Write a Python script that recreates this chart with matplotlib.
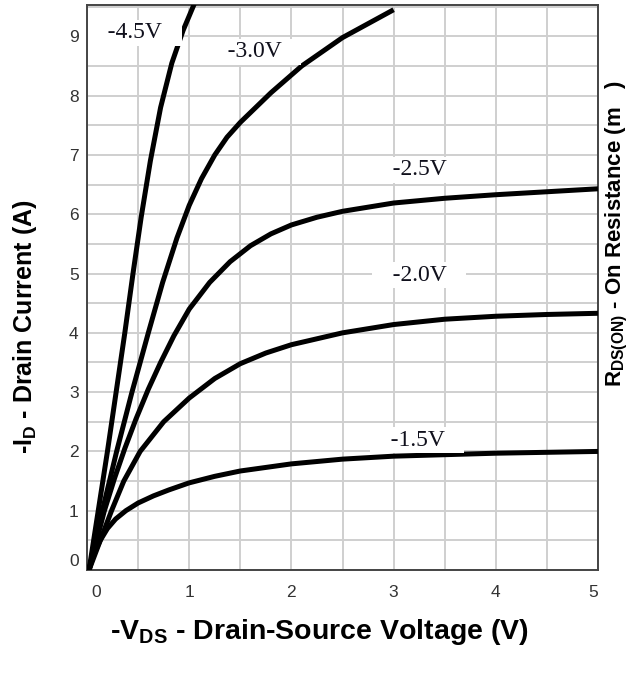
import matplotlib
matplotlib.use("Agg")
import matplotlib.pyplot as plt
import matplotlib.transforms as mtransforms
from matplotlib.ticker import MultipleLocator

# output characteristics, -VDS (V) vs -ID (A), one curve per gate voltage
vgs_labels = ["-4.5V", "-3.0V", "-2.5V", "-2.0V", "-1.5V"]

vds_45 = [0.02, 0.11, 0.20, 0.285, 0.37, 0.45, 0.53, 0.62, 0.72, 0.83, 0.94, 1.05]
id_45 = [0.0, 1.0, 2.0, 3.0, 4.0, 5.0, 5.95, 6.9, 7.8, 8.55, 9.1, 9.55]

vds_30 = [0.02, 0.15, 0.29, 0.44, 0.60, 0.74, 0.88, 1.00, 1.12, 1.25, 1.37,
          1.50, 1.80, 2.10, 2.50, 3.00]
id_30 = [0.0, 1.0, 2.0, 3.0, 4.0, 4.85, 5.6, 6.15, 6.6, 7.0, 7.3,
         7.55, 8.05, 8.5, 8.98, 9.45]

vds_25 = [0.02, 0.17, 0.27, 0.37, 0.48, 0.60, 0.72, 0.85, 1.00, 1.20, 1.40,
          1.60, 1.80, 2.00, 2.25, 2.50, 3.00, 3.50, 4.00, 4.50, 5.00]
id_25 = [0.0, 1.0, 1.55, 2.05, 2.55, 3.05, 3.5, 3.95, 4.4, 4.85, 5.2,
         5.47, 5.67, 5.82, 5.95, 6.05, 6.19, 6.27, 6.33, 6.38, 6.43]

vds_20 = [0.02, 0.13, 0.24, 0.36, 0.52, 0.75, 1.00, 1.25, 1.50, 1.75, 2.00,
          2.50, 3.00, 3.50, 4.00, 4.50, 5.00]
id_20 = [0.0, 0.5, 1.0, 1.5, 2.0, 2.5, 2.9, 3.23, 3.48, 3.66, 3.80,
         4.00, 4.14, 4.23, 4.28, 4.31, 4.33]

vds_15 = [0.02, 0.07, 0.13, 0.20, 0.28, 0.38, 0.50, 0.65, 0.80, 1.00, 1.25,
          1.50, 2.00, 2.50, 3.00, 4.00, 5.00]
id_15 = [0.0, 0.28, 0.50, 0.70, 0.86, 1.00, 1.13, 1.25, 1.35, 1.47, 1.58,
         1.67, 1.79, 1.87, 1.92, 1.97, 2.00]

# where the curve labels sit (data units)
label_x = [0.47, 1.64, 3.25, 3.25, 3.23]
label_y = [9.06, 8.74, 6.75, 4.97, 2.19]

x_ticks = [0, 1, 2, 3, 4, 5]
y_ticks = [0, 1, 2, 3, 4, 5, 6, 7, 8, 9]

plt.rcParams["mathtext.fontset"] = "custom"
plt.rcParams["mathtext.rm"] = "Liberation Sans"
plt.rcParams["mathtext.bf"] = "Liberation Sans:bold"

fig = plt.figure(figsize=(6.38, 6.73), dpi=100)
ax = fig.add_axes([87 / 638, 103 / 673, 511 / 638, 565 / 673])

curves = [(vds_45, id_45), (vds_30, id_30), (vds_25, id_25),
          (vds_20, id_20), (vds_15, id_15)]
for vx, vy in curves:
    ax.plot(vx, vy, color="black", lw=3.6, solid_capstyle="butt",
            solid_joinstyle="round", zorder=3)

for txt, lx, ly in zip(vgs_labels, label_x, label_y):
    ax.text(lx, ly, "   " + txt + "   ", family="Liberation Serif", fontsize=17,
            ha="center", va="center", color="#10101c", zorder=4,
            bbox=dict(boxstyle="square,pad=0.1", fc="white", ec="none"))

ax.set_xlim(0, 5)
ax.set_ylim(0, 9.53)
ax.set_xticks(x_ticks)
ax.set_yticks(y_ticks)
ax.xaxis.set_minor_locator(MultipleLocator(0.5))
ax.yaxis.set_minor_locator(MultipleLocator(0.5))
ax.grid(True, which="both", color="#cfcfcf", lw=1.4, zorder=0)
ax.set_axisbelow(True)
ax.tick_params(which="both", length=0)
ax.tick_params(axis="x", pad=11, labelsize=12.5, labelcolor="#333333")
ax.tick_params(axis="y", pad=6, labelsize=12.5, labelcolor="#333333")
for lab in ax.get_xticklabels() + ax.get_yticklabels():
    lab.set_family("Liberation Sans")
for sp in ax.spines.values():
    sp.set_color("#444444")
    sp.set_linewidth(1.4)

# nudge the corner tick labels like the original
xt = ax.xaxis.get_major_ticks()
yt = ax.yaxis.get_major_ticks()
xt[0].label1.set_transform(xt[0].label1.get_transform() +
                           mtransforms.ScaledTranslation(0.09, 0, fig.dpi_scale_trans))
xt[-1].label1.set_transform(xt[-1].label1.get_transform() +
                            mtransforms.ScaledTranslation(-0.05, 0, fig.dpi_scale_trans))
yt[0].label1.set_transform(yt[0].label1.get_transform() +
                           mtransforms.ScaledTranslation(0, 0.10, fig.dpi_scale_trans))

fig.text(25 / 638, 1 - 327 / 673, r"-I$_\mathbf{D}$ - Drain Current (A)",
         rotation=90, ha="center", va="center", fontsize=18, fontweight="bold",
         family="Liberation Sans")
fig.text(319 / 638, 1 - 632 / 673, r"-V$_\mathbf{DS}$ - Drain-Source Voltage (V)",
         ha="center", va="center", fontsize=20.5, fontweight="bold",
         family="Liberation Sans")
fig.text(617 / 638, 1 - 234 / 673, r"R$_\mathbf{DS(ON)}$ - On Resistance (m   )",
         rotation=90, ha="center", va="center", fontsize=16, fontweight="bold",
         family="Liberation Sans")

fig.savefig("out.png", dpi=100)
